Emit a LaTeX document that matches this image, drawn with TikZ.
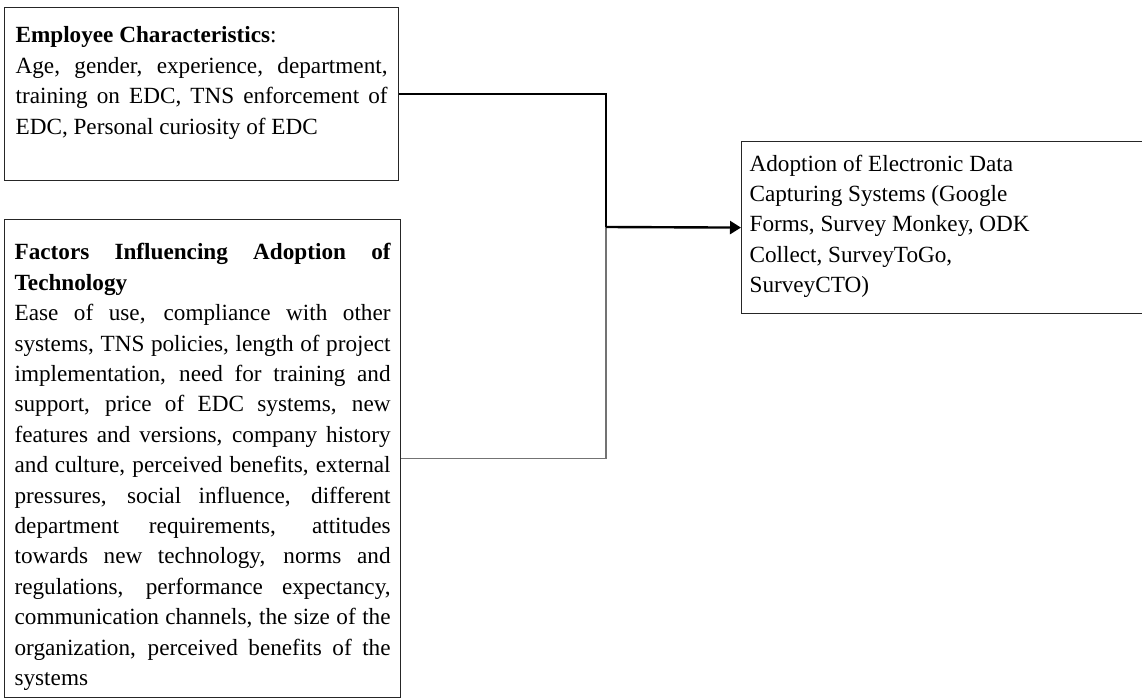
\documentclass[tikz,border=0pt]{standalone}
\usepackage{fontspec}
\setmainfont{Liberation Serif}
\usepackage{tikz}
\usetikzlibrary{arrows.meta}

\tikzset{
    factorbox/.style={draw = black!85, line width = 0.6pt, anchor = north west,
        inner xsep = 5.5pt, inner ysep = 0pt},
    linkline/.style={draw = black, line width = 0.6pt},
    arrowline/.style={draw = black, line width = 1.2pt,
        -{Triangle[length = 5.5pt, width = 6.5pt]}}
}
% width, height, top padding, text
\newcommand{\boxtext}[4]{\parbox[c][#2][t]{#1}{\fontsize{11.6}{15.2}\selectfont
    \hbadness=10000 \vspace*{#3}#4}}

\begin{document}
\begin{tikzpicture}[x=0.5pt, y=-0.5pt]
    \useasboundingbox (0, 0) rectangle (1142, 700);

    \node[factorbox] (emp) at (4, 7) {\boxtext{186pt}{86.5pt}{9.6pt}{%
        \textbf{Employee Characteristics}:\par
        Age, gender, experience, department,\linebreak
        training on EDC, TNS enforcement of\linebreak
        EDC, Personal curiosity of EDC}};

    \node[factorbox, inner xsep = 5pt] (fac) at (4, 219) {\boxtext{188pt}{239pt}{12pt}{%
        \textbf{Factors Influencing Adoption of\linebreak Technology}\par
        Ease of use, compliance with other\linebreak
        systems, TNS policies, length of project\linebreak
        implementation, need for training and\linebreak
        support, price of EDC systems, new\linebreak
        features and versions, company history\linebreak
        and culture, perceived benefits, external\linebreak
        pressures, social influence, different\linebreak
        department requirements, attitudes\linebreak
        towards new technology, norms and\linebreak
        regulations, performance expectancy,\linebreak
        communication channels, the size of the\linebreak
        organization, perceived benefits of the\linebreak
        systems}};

    \node[factorbox, inner xsep = 4pt] (adopt) at (741, 141) {\boxtext{201.5pt}{86pt}{6.6pt}{%
        \raggedright
        Adoption of Electronic Data\\
        Capturing Systems (Google\\
        Forms, Survey Monkey, ODK\\
        Collect, SurveyToGo,\\
        SurveyCTO)}};

    % connectors
    \coordinate (join) at (606, 227);
    \draw[linkline] (emp.east) -| (join);
    \draw[linkline, draw = black!55] (fac.east) -| (join);
    \draw[arrowline] (join) -- (adopt.west);
\end{tikzpicture}
\end{document}
